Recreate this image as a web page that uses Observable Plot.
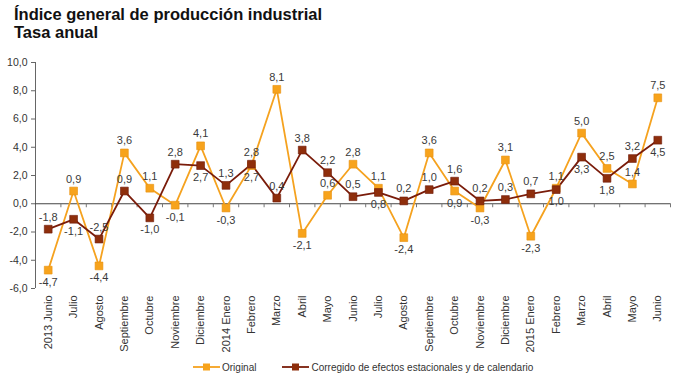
<!DOCTYPE html>
<html>
<head>
<meta charset="utf-8">
<script src="https://cdn.jsdelivr.net/npm/d3@7"></script>
<script src="https://cdn.jsdelivr.net/npm/@observablehq/plot@0.6"></script>
<style>
  body { margin: 0; background: #fff; font-family: "Liberation Sans", Arial, sans-serif; }
  #wrap { width: 680px; height: 379px; overflow: hidden; }
  #title { height: 50px; box-sizing: border-box; padding: 5px 0 0 14px; font-weight: bold; font-size: 16.5px; line-height: 18px; color: #111; }
  #legend { height: 24px; display: flex; align-items: center; padding-left: 193px; font-size: 10px; color: #333; }
  .item { display: flex; align-items: center; margin-right: 26px; }
  .item svg { margin-right: 2px; }
</style>
</head>
<body>
<div id="wrap">
  <div id="title">Índice general de producción industrial<br>Tasa anual</div>
  <div id="chart"></div>
  <div id="legend"></div>
</div>
<script>
const months = ["2013 Junio","Julio","Agosto","Septiembre","Octubre","Noviembre","Diciembre",
  "2014 Enero","Febrero","Marzo","Abril","Mayo","Junio","Julio","Agosto","Septiembre","Octubre",
  "Noviembre","Diciembre","2015 Enero","Febrero","Marzo","Abril","Mayo","Junio"];
const original = [-4.7, 0.9, -4.4, 3.6, 1.1, -0.1, 4.1, -0.3, 2.7, 8.1, -2.1, 0.6, 2.8, 1.1, -2.4, 3.6, 0.9, -0.3, 3.1, -2.3, 1.1, 5.0, 2.5, 1.4, 7.5];
const corregido = [-1.8, -1.1, -2.5, 0.9, -1.0, 2.8, 2.7, 1.3, 2.8, 0.4, 3.8, 2.2, 0.5, 0.8, 0.2, 1.0, 1.6, 0.2, 0.3, 0.7, 1.0, 3.3, 1.8, 3.2, 4.5];
const seriesNames = ["Original", "Corregido de efectos estacionales y de calendario"];
const yTicks = [-6, -4, -2, 0, 2, 4, 6, 8, 10];

const colors = {
  [seriesNames[0]]: {line: "#F5A21F", fill: "#F7A31C", stroke: "#E8900E"},
  [seriesNames[1]]: {line: "#7A1C0A", fill: "#8E2E0C", stroke: "#6E1A08"}
};

const fmt = v => v.toFixed(1).replace(".", ",");

// label placement: higher value above; lower below unless it sits just above zero with room
function placement(v, other) {
  if (v >= other) return "above";
  if (v >= 0 && v < 3 && other - v >= 1.5) return "above";
  return "below";
}

const rows = [];
months.forEach((m, i) => {
  rows.push({i, series: seriesNames[0], value: original[i], pos: placement(original[i], corregido[i])});
});
months.forEach((m, i) => {
  rows.push({i, series: seriesNames[1], value: corregido[i], pos: placement(corregido[i], original[i])});
});

const idx = d3.range(months.length);
const boundaries = idx.map(i => i + 0.5);
const xDomain = [-0.5, months.length - 0.5];

const marks = [
  Plot.ruleX([xDomain[0]], {stroke: "#666", strokeWidth: 1}),
  Plot.ruleY([0], {stroke: "#444", strokeWidth: 1}),
  Plot.ruleX(boundaries, {x: d => d, y1: 0, y2: 0, insetBottom: -4, stroke: "#777"}),
  Plot.axisY(yTicks, {tickFormat: fmt, tickSize: 4, tickPadding: 4, fontSize: 10.5, color: "#333", stroke: "#666", label: null}),
  Plot.axisX(idx, {tickFormat: i => months[i], tickRotate: -90, tickSize: 0, tickPadding: 7, fontSize: 11, color: "#333", anchor: "bottom", label: null})
];
for (const s of seriesNames) {
  const data = rows.filter(r => r.series === s);
  marks.push(Plot.line(data, {x: "i", y: "value", stroke: colors[s].line, strokeWidth: 1.8}));
}
for (const s of seriesNames) {
  const data = rows.filter(r => r.series === s);
  marks.push(Plot.dot(data, {x: "i", y: "value", symbol: "square", r: 4.4, fill: colors[s].fill, stroke: colors[s].stroke, strokeWidth: 0.6}));
}
marks.push(Plot.text(rows.filter(r => r.pos === "above"), {x: "i", y: "value", text: d => fmt(d.value), dy: -12, fontSize: 11, fill: "#3a3a3a"}));
marks.push(Plot.text(rows.filter(r => r.pos === "below"), {x: "i", y: "value", text: d => fmt(d.value), dy: 12, fontSize: 11, fill: "#3a3a3a"}));

const chart = Plot.plot({
  width: 680,
  height: 305,
  marginTop: 12,
  marginBottom: 67,
  marginLeft: 35,
  marginRight: 10,
  style: {fontFamily: "'Liberation Sans', Arial, sans-serif", background: "#fff", overflow: "visible"},
  x: {type: "linear", domain: xDomain, axis: null},
  y: {domain: [-6, 10], axis: null},
  marks
});
document.getElementById("chart").appendChild(chart);

const legend = document.getElementById("legend");
for (const s of seriesNames) {
  const item = document.createElement("div");
  item.className = "item";
  item.innerHTML = `<svg width="27" height="10"><line x1="0" y1="5" x2="27" y2="5" stroke="${colors[s].line}" stroke-width="1.8"/><rect x="10" y="1.5" width="7" height="7" fill="${colors[s].fill}"/></svg><span>${s}</span>`;
  legend.appendChild(item);
}
</script>
</body>
</html>
